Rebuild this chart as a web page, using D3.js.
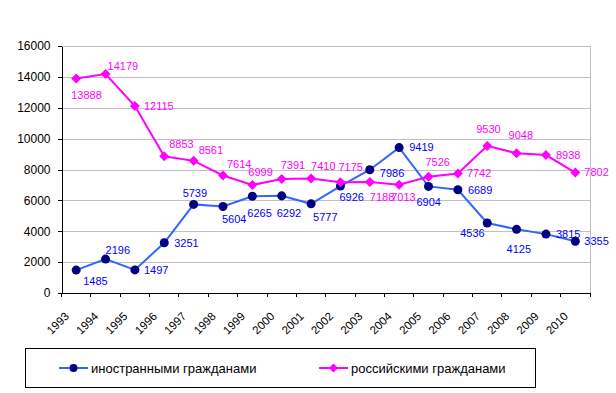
<!DOCTYPE html>
<html>
<head>
<meta charset="utf-8">
<script src="https://cdn.jsdelivr.net/npm/d3@7"></script>
<style>
  body { margin: 0; background: #fff; }
  svg text { font-family: "Liberation Sans", Arial, sans-serif; }
</style>
</head>
<body>
<div id="chart"></div>
<script>
// Data
const years = ["1993", "1994", "1995", "1996", "1997", "1998", "1999", "2000", "2001",
               "2002", "2003", "2004", "2005", "2006", "2007", "2008", "2009", "2010"];
const foreigners = [1485, 2196, 1497, 3251, 5739, 5604, 6265, 6292, 5777,
                    6926, 7986, 9419, 6904, 6689, 4536, 4125, 3815, 3355];
const russians = [13888, 14179, 12115, 8853, 8561, 7614, 6999, 7391, 7410,
                  7175, 7188, 7013, 7526, 7742, 9530, 9048, 8938, 7802];
const yTicks = [0, 2000, 4000, 6000, 8000, 10000, 12000, 14000, 16000];
const seriesNames = ["иностранными гражданами", "российскими гражданами"];

// label offsets (dx to label left edge, dy to label middle), as placed in the original
const foreignLabelOffsets = [[7, 11], [0, -9], [9, 0], [10, 0], [-11, -11], [-1, 13], [-5, 17], [-5, 17], [2, 13],
                             [-1, 11], [10, 3], [10, 0], [-12, 16], [10, 0], [-27, 10], [-10, 20], [10, 0], [9, 0]];
const russianLabelOffsets = [[-5, 17], [2, -8], [9, 0], [5, -12], [5, -11], [4, -11], [-4, -13], [-1, -14], [0, -12],
                             [-2, -15], [0, 15], [-8, 12], [-3, -15], [9, 0], [-11, -17], [-8, -18], [10, 0], [9, 0]];

const width = 616, height = 393;
const margin = {top: 46, left: 61.5, right: 26, bottom: 100};

const svg = d3.select("#chart").append("svg")
    .attr("width", width)
    .attr("height", height);

const x = d3.scaleBand()
    .domain(years)
    .range([margin.left, width - margin.right])
    .padding(0);

const y = d3.scaleLinear()
    .domain([0, 16000])
    .range([height - margin.bottom, margin.top]);

const cx = d => x(d) + x.bandwidth() / 2;

// Gridlines
const grid = svg.append("g")
    .attr("transform", "translate(" + margin.left + ",0)")
    .call(d3.axisLeft(y).tickValues(yTicks.filter(t => t > 0))
        .tickSize(-(width - margin.left - margin.right))
        .tickFormat(""));
grid.selectAll("line").style("stroke", "#c0c0c0").style("shape-rendering", "crispEdges");
grid.select("path").remove();

// right border of plot area
svg.append("line")
    .attr("x1", width - margin.right + 0.5).attr("x2", width - margin.right + 0.5)
    .attr("y1", y(16000)).attr("y2", y(0))
    .style("stroke", "#c0c0c0");

// Y axis
const yAxis = svg.append("g")
    .attr("transform", "translate(" + margin.left + ",0)")
    .call(d3.axisLeft(y).tickValues(yTicks).tickSize(4).tickPadding(7).tickSizeOuter(0).tickFormat(d3.format("d")));
yAxis.selectAll("text").style("font-size", "12px").style("fill", "#000");
yAxis.selectAll("line, path").style("stroke", "#000").style("shape-rendering", "crispEdges");

// X axis
const xAxis = svg.append("g")
    .attr("transform", "translate(0," + y(0) + ")");
xAxis.append("line")
    .attr("x1", margin.left).attr("x2", width - margin.right + 1)
    .style("stroke", "#000").style("shape-rendering", "crispEdges");
xAxis.selectAll(".tick")
    .data(years.concat(["end"]))
    .enter().append("line")
    .attr("x1", d => d === "end" ? x.range()[1] : x(d))
    .attr("x2", d => d === "end" ? x.range()[1] : x(d))
    .attr("y1", 0).attr("y2", 4)
    .style("stroke", "#000").style("shape-rendering", "crispEdges");
xAxis.selectAll(".yl")
    .data(years)
    .enter().append("text")
    .attr("transform", d => "translate(" + (cx(d) - 6.5) + ",24) rotate(-45)")
    .attr("text-anchor", "end")
    .style("font-size", "11.5px")
    .text(d => d);

// Series
function drawSeries(values, offsets, lineColor, markColor, labelColor, shape) {
    const data = years.map((yr, i) => ({year: yr, value: values[i], off: offsets[i]}));
    const line = d3.line().x(d => cx(d.year)).y(d => y(d.value));

    svg.append("path")
        .datum(data)
        .attr("d", line)
        .style("fill", "none")
        .style("stroke", lineColor)
        .style("stroke-width", 2);

    svg.selectAll(".m-" + shape)
        .data(data)
        .enter().append("path")
        .attr("transform", d => "translate(" + cx(d.year) + "," + y(d.value) + ")")
        .attr("d", shape === "circle" ? d3.symbol(d3.symbolCircle, 64)() : "M0,-5L5,0L0,5L-5,0Z")
        .style("fill", markColor);

    svg.selectAll(".l-" + shape)
        .data(data)
        .enter().append("text")
        .attr("x", d => cx(d.year) + d.off[0])
        .attr("y", d => y(d.value) + d.off[1])
        .attr("dy", "0.35em")
        .style("font-size", "11px")
        .style("fill", labelColor)
        .text(d => d.value);
}

drawSeries(foreigners, foreignLabelOffsets, "#3366ff", "#000080", "#0000ff", "circle");
drawSeries(russians, russianLabelOffsets, "#ff00ff", "#ff00ff", "#ff00ff", "diamond");

// Legend
const legend = svg.append("g");
legend.append("rect")
    .attr("x", 25.5).attr("y", 348.5)
    .attr("width", 510).attr("height", 39)
    .style("fill", "none").style("stroke", "#000");

const legendItems = [
    {name: seriesNames[0], x: 59, line: "#3366ff", mark: "#000080", shape: "circle"},
    {name: seriesNames[1], x: 319, line: "#ff00ff", mark: "#ff00ff", shape: "diamond"}
];
const li = legend.selectAll(".li").data(legendItems).enter().append("g")
    .attr("transform", d => "translate(" + d.x + ",368)");
li.append("line").attr("x1", 0).attr("x2", 29)
    .style("stroke", d => d.line).style("stroke-width", 2);
li.append("path")
    .attr("transform", "translate(14.5,0)")
    .attr("d", d => d.shape === "circle" ? d3.symbol(d3.symbolCircle, 50)() : "M0,-4.5L4.5,0L0,4.5L-4.5,0Z")
    .style("fill", d => d.mark);
li.append("text")
    .attr("x", 32).attr("y", 0).attr("dy", "0.35em")
    .style("font-size", "13px")
    .text(d => d.name);
</script>
</body>
</html>
